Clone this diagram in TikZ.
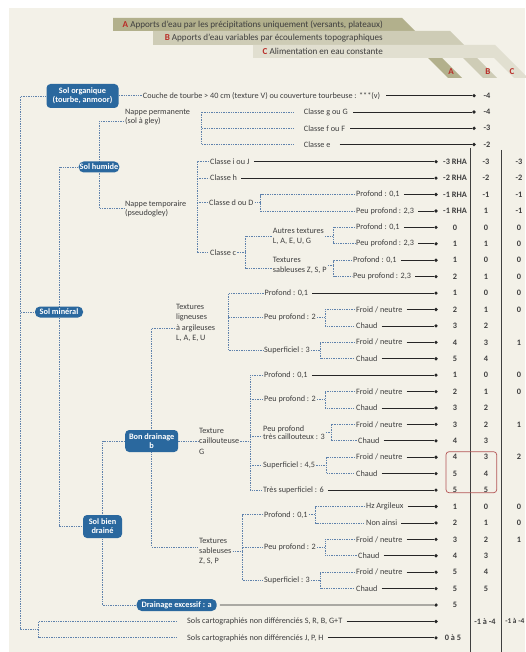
\documentclass[tikz,border=0pt]{standalone}
\usepackage{fontspec}
\setmainfont{Carlito}
\usetikzlibrary{calc}
\definecolor{bgc}{RGB}{243,241,232}
\definecolor{bandA}{RGB}{178,176,140}
\definecolor{bandB}{RGB}{206,204,182}
\definecolor{bandC}{RGB}{225,223,208}
\definecolor{redL}{RGB}{185,45,40}
\definecolor{nodeblue}{RGB}{42,104,158}
\definecolor{dashc}{RGB}{95,130,172}
\definecolor{txt}{RGB}{62,62,62}
\definecolor{boxred}{RGB}{180,85,85}
\pgfdeclarelayer{bglayer}
\pgfdeclarelayer{connlayer}
\pgfsetlayers{bglayer,connlayer,main}
\newcommand\leafrow[4]{%
  \node[lf] (#1) at (#2,{#3}) {#4};
  \node[dot] (#1d) at (436,{#3}) {};
  \draw[ln] (#1) -- (#1d);}
\newcommand\brpair[4]{%
  \coordinate (#1bx) at ($(#1.east)+(#2,0)$);
  \begin{pgfonlayer}{connlayer}
  \draw[dl] (#3.west) -- (#3.west -| #1bx) -- (#4.west -| #1bx) -- (#4.west);
  \draw[dl] (#1.east) -- (#1bx);
  \end{pgfonlayer}}
\newcommand\valA[2]{\node[vl] (va#1) at (455,{ry(#1)}) {#2};}
\newcommand\valB[2]{\node[vl] (vb#1) at (486,{ry(#1)}) {#2};}
\newcommand\valC[2]{\node[vl] (vc#1) at (519,{ry(#1)}) {#2};}
\newcommand\valABC[4]{\valA{#1}{#2}\valB{#1}{#3}\valC{#1}{#4}}
\newcommand\valAB[3]{\valA{#1}{#2}\valB{#1}{#3}}
\begin{document}
\begin{tikzpicture}[x=1pt,y=-1pt,
  declare function={ry(\i)=161.7+(\i-4)*16.42;},
  bn/.style={fill=nodeblue, text=white, font=\fontsize{8.3}{9.2}\selectfont\bfseries, rounded corners=4pt, align=center, inner sep=1pt},
  lf/.style={anchor=west, text=txt, font=\fontsize{8.2}{9}\selectfont, inner sep=1pt},
  ml/.style={anchor=west, text=txt, align=left, font=\fontsize{8.2}{10.5}\selectfont, inner sep=1pt},
  vl/.style={font=\fontsize{8.3}{9}\selectfont\bfseries, text=txt, inner sep=0pt},
  hd/.style={anchor=east, text=txt, font=\fontsize{9.1}{9}\selectfont, inner sep=0pt},
  dl/.style={dashc, line width=0.8pt, dash pattern=on 1.4pt off 1pt},
  ln/.style={black!85, line width=0.8pt, shorten <=3pt},
  dot/.style={circle, fill=black!85, inner sep=0pt, minimum size=3.6pt},
  sep/.style={black!75, line width=0.9pt},
]
\clip (0,0) rectangle (525,652);
\begin{pgfonlayer}{bglayer}
\fill[white] (0,0) rectangle (525,652);
\fill[bgc] (9,8) rectangle (525,652);
\fill[bandA] (113,18) -- (402,18) -- (462,78) -- (448,78) -- (401,31) -- (113,31) -- cycle;
\fill[bandB] (153,31) -- (450,31) -- (497,78) -- (483,78) -- (450,45) -- (153,45) -- cycle;
\fill[bandC] (253,45) -- (495,45) -- (528,78) -- (514,78) -- (494,58) -- (253,58) -- cycle;
\end{pgfonlayer}

% header
\node[hd] (hA) at (383,24.7) {\textcolor{redL}{\textbf{A}} Apports d'eau par les précipitations uniquement (versants, plateaux)};
\node[hd] (hB) at (383,37.9) {\textcolor{redL}{\textbf{B}} Apports d'eau variables par écoulements topographiques};
\node[hd] (hC) at (383,51.3) {\textcolor{redL}{\textbf{C}} Alimentation en eau constante};
\node[text=redL, font=\fontsize{9}{9}\selectfont\bfseries] (cA) at (451,72) {A};
\node[text=redL, font=\fontsize{9}{9}\selectfont\bfseries] (cB) at (488,72) {B};
\node[text=redL, font=\fontsize{9}{9}\selectfont\bfseries] (cC) at (512,72) {C};

% column separators and highlight
\draw[sep] (470.7,148) -- (470.7,652);
\draw[sep] (501.7,150) -- (501.7,652);
\draw[boxred, line width=0.7pt, rounded corners=3pt] (446,451.7) rectangle (496.7,492.7);

% blue nodes
\node[bn, minimum width=72pt, minimum height=24pt] (so) at (82.5,96) {Sol organique\\(tourbe, anmoor)};
\node[bn, minimum width=48pt, minimum height=11pt, rounded corners=5pt] (sm) at (59,312) {Sol minéral};
\node[bn, minimum width=39pt, minimum height=11pt, rounded corners=5pt] (sh) at (99,167) {Sol humide};
\node[bn, minimum width=39pt, minimum height=23pt] (sbd) at (102.5,526.5) {Sol bien\\drainé};
\node[bn, minimum width=53pt, minimum height=22pt] (bd) at (151.7,441) {Bon drainage\\b};
\node[bn, minimum width=80pt, minimum height=12pt, rounded corners=5pt] (de) at (176.7,605) {Drainage excessif : a};

% root bracket
\coordinate (rootx) at (20.7,0);
\coordinate (cartb) at (38.3,629.6);
\leafrow{scA}{186}{ry(32)}{Sols cartographiés non différenciés S, R, B, G+T}
\leafrow{scB}{186}{ry(33)}{Sols cartographiés non différenciés J, P, H}
\begin{pgfonlayer}{connlayer}
\draw[dl] (so.west) -- (so.west -| rootx) -- (cartb -| rootx) -- (cartb);
\draw[dl] (sm.west -| rootx) -- (sm.west);
\draw[dl, shorten <=9pt, shorten >=9pt] (scA.west) -- (scA.west -| cartb) -- (scB.west -| cartb) -- (scB.west);
\draw[dl] (sh.west) -| (sm.center) |- (sbd.west);
\draw[dl] (bd.west) -| (sbd.center) |- (de.west);
\end{pgfonlayer}

% organic row
\node[lf] (couche) at (141.7,95.7) {Couche de tourbe > 40 cm (texture V) ou couverture tourbeuse : ***(v)};
\node[dot] (couched) at (474,95.7) {};
\draw[ln, shorten <=5pt] (couche) -- (couched);
\begin{pgfonlayer}{connlayer}
\draw[dl] (so.east |- couche.west) -- (couche.west);
\end{pgfonlayer}
\node[vl] (vb0) at (487,95.7) {-4};

% Sol humide
\node[ml, font=\fontsize{8.2}{9}\selectfont] (np) at (124,117.5) {Nappe permanente\\(sol à gley)};
\node[ml, font=\fontsize{8.2}{9}\selectfont] (nt) at (124,208.7) {Nappe temporaire\\(pseudogley)};
\begin{pgfonlayer}{connlayer}
\draw[dl] ([yshift=-4pt]np.west) -| (sh.center) |- (nt.west);
\end{pgfonlayer}

% Nappe permanente
\coordinate (bxnp) at (201.7,0);
\node[lf] (cg) at (302.7,112) {Classe g ou G};
\node[lf] (cf) at (302.7,128.3) {Classe f ou F};
\node[lf] (ce) at (302.7,144.5) {Classe e};
\node[dot] (cgd) at (474,112) {};
\node[dot] (cfd) at (474,128.3) {};
\node[dot] (ced) at (474,144.5) {};
\draw[ln, shorten <=4pt] (cg) -- (cgd);
\draw[ln, shorten <=4pt] (cf) -- (cfd);
\draw[ln, shorten <=8pt] (ce) -- (ced);
\node[vl] (vb1) at (487,112) {-4};
\node[vl] (vb2) at (487,128.3) {-3};
\node[vl] (vb3) at (487,144.5) {-2};
\begin{pgfonlayer}{connlayer}
\draw[dl, shorten >=8pt] (cg.west -| bxnp) -- (cg.west);
\draw[dl, shorten >=8pt] (cf.west -| bxnp) -- (cf.west);
\draw[dl, shorten >=8pt] (ce.west -| bxnp) -- (ce.west);
\draw[dl] (cg.west -| bxnp) -- (ce.west -| bxnp);
\end{pgfonlayer}

% Nappe temporaire
\coordinate (bxnt) at (197,0);
\leafrow{ci}{209}{ry(4)}{Classe i ou J}
\leafrow{chh}{209}{ry(5)}{Classe h}
\node[lf] (cd) at (208,{(ry(6)+ry(7))/2}) {Classe d ou D};
\node[lf] (cc) at (209,252.5) {Classe c};
\begin{pgfonlayer}{connlayer}
\draw[dl] (ci.west) -- (ci.west -| bxnt) -- (cc.west -| bxnt) -- (cc.west);
\draw[dl] (chh.west -| bxnt) -- (chh.west);
\draw[dl] (cd.west -| bxnt) -- (cd.west);
\end{pgfonlayer}
\leafrow{pdA}{355}{ry(6)}{Profond : 0,1}
\leafrow{pdB}{355}{ry(7)}{Peu profond : 2,3}
\brpair{cd}{6}{pdA}{pdB}
\node[ml] (at) at (271.7,236.2) {Autres textures\\L, A, E, U, G};
\node[ml] (tsu) at (271.7,265.3) {Textures\\sableuses Z, S, P};
\coordinate (bxcc) at (245,0);
\begin{pgfonlayer}{connlayer}
\draw[dl] (at.west) -- (at.west -| bxcc) -- ([yshift=-3pt]tsu.west -| bxcc) -- ([yshift=-3pt]tsu.west);
\draw[dl] (cc.east) -- (cc.east -| bxcc);
\end{pgfonlayer}
\leafrow{atA}{355}{ry(8)}{Profond : 0,1}
\leafrow{atB}{355}{ry(9)}{Peu profond : 2,3}
\brpair{at}{8}{atA}{atB}
\leafrow{tsA}{352}{ry(10)}{Profond : 0,1}
\leafrow{tsB}{352}{ry(11)}{Peu profond : 2,3}
\brpair{tsu}{6}{tsA}{tsB}

% Bon drainage
\node[ml, font=\fontsize{8.2}{10.3}\selectfont] (tla) at (175,323) {Textures\\ligneuses\\à argileuses\\L, A, E, U};
\node[ml, font=\fontsize{8.2}{10.4}\selectfont] (tcg) at (198,441) {Texture\\caillouteuse\\G};
\node[ml, font=\fontsize{8.2}{10}\selectfont] (tsab) at (198,551) {Textures\\sableuses\\Z, S, P};
\begin{pgfonlayer}{connlayer}
\draw[dl] ([yshift=-5pt]tla.west) -| (bd.center) |- ([yshift=4pt]tsab.west);
\draw[dl] (bd.east) -- (tcg.west);
\end{pgfonlayer}

% ligneuses
\coordinate (bxla) at (228.3,0);
\leafrow{lA}{263.5}{ry(12)}{Profond : 0,1}
\node[lf] (lB) at (263,{(ry(13)+ry(14))/2}) {Peu profond : 2};
\node[lf] (lC) at (263,{(ry(15)+ry(16))/2}) {Superficiel : 3};
\begin{pgfonlayer}{connlayer}
\draw[dl] (lA.west) -- (lA.west -| bxla) -- (lC.west -| bxla) -- (lC.west);
\draw[dl] (lB.west -| bxla) -- (lB.west);
\end{pgfonlayer}
\leafrow{lBa}{355}{ry(13)}{Froid / neutre}
\leafrow{lBb}{355}{ry(14)}{Chaud}
\brpair{lB}{8}{lBa}{lBb}
\leafrow{lCa}{355}{ry(15)}{Froid / neutre}
\leafrow{lCb}{355}{ry(16)}{Chaud}
\brpair{lC}{9}{lCa}{lCb}

% caillouteuse
\coordinate (bxcg) at (250,0);
\leafrow{gA}{263}{ry(17)}{Profond : 0,1}
\node[lf] (gB) at (263,{(ry(18)+ry(19))/2}) {Peu profond : 2};
\node[ml, font=\fontsize{8.2}{8.8}\selectfont] (gC) at (262,{(ry(20)+ry(21))/2}) {Peu profond\\très caillouteux : 3};
\node[lf] (gD) at (262,{(ry(22)+ry(23))/2}) {Superficiel : 4,5};
\leafrow{gE}{262}{ry(24)}{Très superficiel : 6}
\begin{pgfonlayer}{connlayer}
\draw[dl] (gA.west) -- (gA.west -| bxcg) -- (gE.west -| bxcg) -- (gE.west);
\draw[dl] (gB.west -| bxcg) -- (gB.west);
\draw[dl] ([yshift=-4pt]gC.west -| bxcg) -- ([yshift=-4pt]gC.west);
\draw[dl] (gD.west -| bxcg) -- (gD.west);
\draw[dl] (tcg.east) -- (tcg.east -| bxcg);
\end{pgfonlayer}
\leafrow{gBa}{355}{ry(18)}{Froid / neutre}
\leafrow{gBb}{355}{ry(19)}{Chaud}
\brpair{gB}{8}{gBa}{gBb}
\leafrow{gCa}{355}{ry(20)}{Froid / neutre}
\leafrow{gCb}{357}{ry(21)}{Chaud}
\brpair{gC}{5}{gCa}{gCb}
\leafrow{gDa}{355}{ry(22)}{Froid / neutre}
\leafrow{gDb}{355}{ry(23)}{Chaud}
\brpair{gD}{10}{gDa}{gDb}

% sableuses (bon drainage)
\coordinate (bxsb) at (242.7,0);
\node[lf] (sA) at (263,{(ry(25)+ry(26))/2}) {Profond : 0,1};
\node[lf] (sB) at (263,{(ry(27)+ry(28))/2}) {Peu profond : 2};
\node[lf] (sC) at (263,{(ry(29)+ry(30))/2}) {Superficiel : 3};
\begin{pgfonlayer}{connlayer}
\draw[dl] (sA.west) -- (sA.west -| bxsb) -- (sC.west -| bxsb) -- (sC.west);
\draw[dl] (sB.west -| bxsb) -- (sB.west);
\draw[dl] (tsab.east) -- (tsab.east -| bxsb);
\end{pgfonlayer}
\leafrow{sAa}{365}{ry(25)}{Hz Argileux}
\leafrow{sAb}{365}{ry(26)}{Non ainsi}
\brpair{sA}{7}{sAa}{sAb}
\leafrow{sBa}{355}{ry(27)}{Froid / neutre}
\leafrow{sBb}{357}{ry(28)}{Chaud}
\brpair{sB}{8}{sBa}{sBb}
\leafrow{sCa}{355}{ry(29)}{Froid / neutre}
\leafrow{sCb}{355}{ry(30)}{Chaud}
\brpair{sC}{9}{sCa}{sCb}

% drainage excessif
\node[dot] (ded) at (436,{ry(31)}) {};
\draw[ln] (de) -- (ded);

% values
\valABC{4}{-3 RHA}{-3}{-3}
\valABC{5}{-2 RHA}{-2}{-2}
\valABC{6}{-1 RHA}{-1}{-1}
\valABC{7}{-1 RHA}{1}{-1}
\valABC{8}{0}{0}{0}
\valABC{9}{1}{1}{0}
\valABC{10}{1}{0}{0}
\valABC{11}{2}{1}{0}
\valABC{12}{1}{0}{0}
\valABC{13}{2}{1}{0}
\valAB{14}{3}{2}
\valABC{15}{4}{3}{1}
\valAB{16}{5}{4}
\valABC{17}{1}{0}{0}
\valABC{18}{2}{1}{0}
\valAB{19}{3}{2}
\valABC{20}{3}{2}{1}
\valAB{21}{4}{3}
\valABC{22}{4}{3}{2}
\valAB{23}{5}{4}
\valAB{24}{5}{5}
\valABC{25}{1}{0}{0}
\valABC{26}{2}{1}{0}
\valABC{27}{3}{2}{1}
\valAB{28}{4}{3}
\valAB{29}{5}{4}
\valAB{30}{5}{5}
\valA{31}{5}
\node[vl] (vb32) at (485,{ry(32)}) {-1 à -4};
\node[vl, anchor=east, font=\fontsize{7.4}{8}\selectfont\bfseries] (vc32) at (524.5,{ry(32)}) {-1 à -4};
\node[vl] (va33) at (453,{ry(33)}) {0 à 5};
\end{tikzpicture}
\end{document}
